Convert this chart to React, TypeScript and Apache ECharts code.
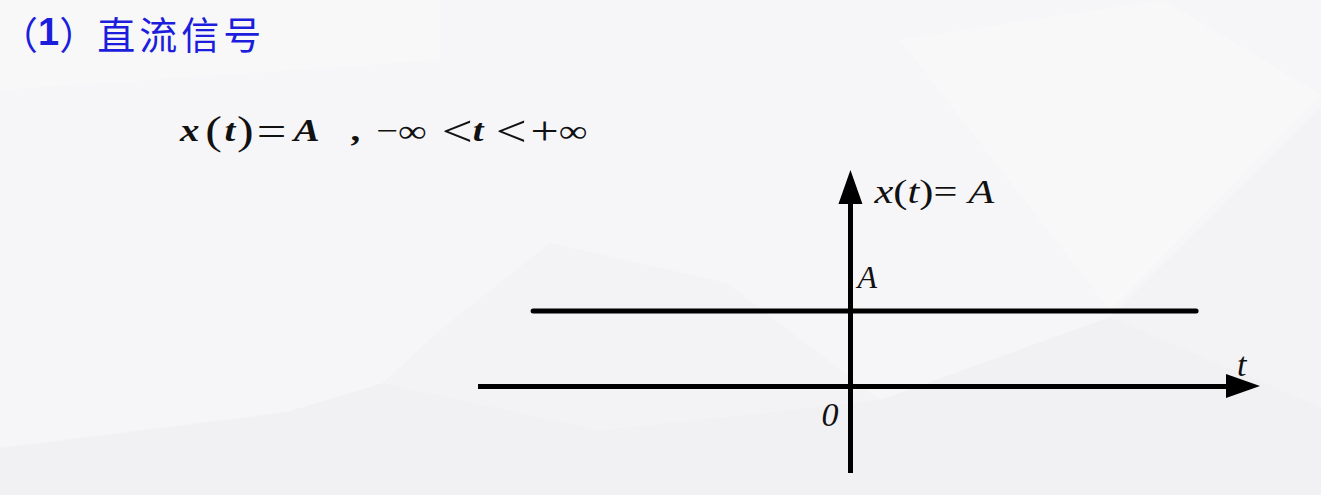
import React, { useEffect, useRef } from "react";
import * as echarts from "echarts";

// signal data: constant x(t) = A (A = 1 unit) over the drawn span of t
const tValues = [-4.26, 4.64];
const xValues = [1, 1];
// axis extents (in data units)
const tRange = [-5, 5.27];
const xRange = [-1.16, 2.653];
// labels
const titleParts = ["（", "1", "）", "直", "流", "信", "号"];
const axisLabelA = "A";
const axisLabelZero = "0";
const axisLabelT = "t";

const SERIF = "'Liberation Serif', 'Times New Roman', serif";
const CJK = "'Noto Sans CJK SC', sans-serif";

export default function App() {
  const ref = useRef<HTMLDivElement>(null);
  useEffect(() => {
    if (!ref.current) return;
    const chart = echarts.init(ref.current, null, { renderer: "svg" });
    const axisCommon = {
      type: "value",
      axisTick: { show: false },
      axisLabel: { show: false },
      splitLine: { show: false },
      axisLine: {
        show: true,
        onZero: true,
        symbol: ["none", "triangle"],
        symbolSize: [24, 34],
        lineStyle: { color: "#000", width: 5, cap: "butt" },
      },
    };
    chart.setOption({
      animation: false,
      backgroundColor: "#f6f6f8",
      grid: { left: 478, right: 1321 - 1243, top: 187, bottom: 22, containLabel: false },
      xAxis: { ...axisCommon, min: tRange[0], max: tRange[1] },
      yAxis: { ...axisCommon, min: xRange[0], max: xRange[1] },
      series: [
        {
          type: "line",
          data: tValues.map((t, i) => [t, xValues[i]]),
          symbol: "none",
          lineStyle: { color: "#000", width: 5, cap: "round" },
          z: 3,
        },
      ],
    });

    const o = chart.convertToPixel({ gridIndex: 0 }, [0, 0]) as number[];
    const aPt = chart.convertToPixel({ gridIndex: 0 }, [0, xValues[0]]) as number[];
    const yTop = chart.convertToPixel({ gridIndex: 0 }, [0, xRange[1]]) as number[];
    const xEnd = chart.convertToPixel({ gridIndex: 0 }, [tRange[1], 0]) as number[];

    const bg = (points: number[][], fill: string) => ({
      type: "polygon",
      z: -10,
      silent: true,
      shape: { points },
      style: { fill },
    });

    const FS = 31;
    const v = (pad: number) => ({
      fontFamily: SERIF,
      fontSize: FS,
      fontStyle: "italic",
      fontWeight: "bold",
      fill: "#111",
      padding: [0, pad, 0, 0],
    });
    const op = (size: number, pad: number, weight = "normal", padL = 0) => ({
      fontFamily: SERIF,
      fontSize: size,
      fontWeight: weight,
      fill: "#111",
      padding: [0, pad, 0, padL],
    });

    const iv = (pad: number, size = 34) => ({
      fontFamily: SERIF,
      fontSize: size,
      fontStyle: "italic",
      fill: "#111",
      padding: [0, pad, 0, 0],
    });
    const ir = (pad: number, size = 34) => ({
      fontFamily: SERIF,
      fontSize: size,
      fill: "#111",
      padding: [0, pad, 0, 0],
    });

    const cjk = (pad: number, family = CJK, weight = "normal") => ({
      fontFamily: family,
      fontSize: 38,
      fontWeight: weight,
      fill: "#1d1ddc",
      padding: [0, pad, 0, 0],
    });

    chart.setOption({
      graphic: [
        bg([[0, 0], [440, 0], [440, 60], [0, 90]], "#f8f8f9"),
        bg([[0, 448], [287, 412], [383, 383], [600, 430], [880, 400], [880, 495], [0, 495]], "#f1f1f3"),
        bg([[440, 330], [550, 243], [727, 283], [880, 400], [600, 430], [383, 383]], "#f3f3f5"),
        bg([[880, 400], [1110, 317], [1321, 407], [1321, 495], [880, 495]], "#f1f1f3"),
        bg([[1110, 317], [1321, 107], [1321, 407]], "#f3f3f5"),
        bg([[900, 40], [1163, 0], [1321, 95], [1110, 310]], "#f8f8f9"),
        {
          type: "text",
          x: 0,
          y: 32,
          z: 10,
          style: {
            text: `{p1|${titleParts[0]}}{n|${titleParts[1]}}{p2|${titleParts[2]}}{c|${titleParts[3]}}{c|${titleParts[4]}}{c|${titleParts[5]}}{c|${titleParts[6]}}`,
            verticalAlign: "middle",
            rich: {
              p1: cjk(0),
              n: cjk(0, "'Liberation Sans', Arial, sans-serif", "bold"),
              p2: cjk(0),
              c: cjk(4),
            },
          },
        },
        {
          type: "text",
          x: 180,
          y: 131,
          z: 10,
          scaleX: 1.25,
          style: {
            text: "{va|x}{p|(}{vt1|t}{p2|)}{eq|=}{vA|A}{cm|,}{mn|−}{inf1|∞}{lt1|<}{vt2|t}{lt2|<}{pl|+}{inf2|∞}",
            verticalAlign: "middle",
            rich: {
              va: v(4.7),
              p: op(40, 2),
              vt1: v(1.5),
              p2: op(40, 0),
              eq: op(42, 6, "normal", 2.4),
              vA: v(24.7),
              cm: op(FS, 12.8, "bold"),
              mn: op(FS, 0),
              inf1: op(32, 12.1),
              lt1: op(44, 0),
              vt2: v(9.8),
              lt2: op(44, 3),
              pl: op(40, 0),
              inf2: op(32, 0),
            },
          },
        },
        {
          type: "text",
          x: yTop[0] + 24,
          y: yTop[1] + 5,
          z: 10,
          scaleX: 1.25,
          style: {
            text: "{x|x}{p|(}{t|t}{p2|)}{e|=}{a|A}",
            verticalAlign: "middle",
            rich: {
              x: iv(0),
              p: ir(0),
              t: iv(0),
              p2: ir(0),
              e: ir(8.7),
              a: iv(0),
            },
          },
        },
        {
          type: "text",
          x: aPt[0] + 7,
          y: aPt[1] - 33.5,
          z: 10,
          style: {
            text: axisLabelA,
            font: `italic 32px ${SERIF}`,
            fill: "#111",
            verticalAlign: "middle",
            align: "left",
          },
        },
        {
          type: "text",
          x: o[0] - 12,
          y: o[1] + 29,
          z: 10,
          style: {
            text: axisLabelZero,
            font: `italic 34px ${SERIF}`,
            fill: "#111",
            verticalAlign: "middle",
            align: "right",
          },
        },
        {
          type: "text",
          x: xEnd[0] - 6,
          y: o[1] - 21,
          z: 10,
          style: {
            text: axisLabelT,
            font: `italic 34px ${SERIF}`,
            fill: "#111",
            verticalAlign: "middle",
            align: "left",
          },
        },
      ],
    });
    return () => chart.dispose();
  }, []);
  return (
    <div
      ref={ref}
      style={{ position: "fixed", left: 0, top: 0, width: 1321, height: 495 }}
    />
  );
}
